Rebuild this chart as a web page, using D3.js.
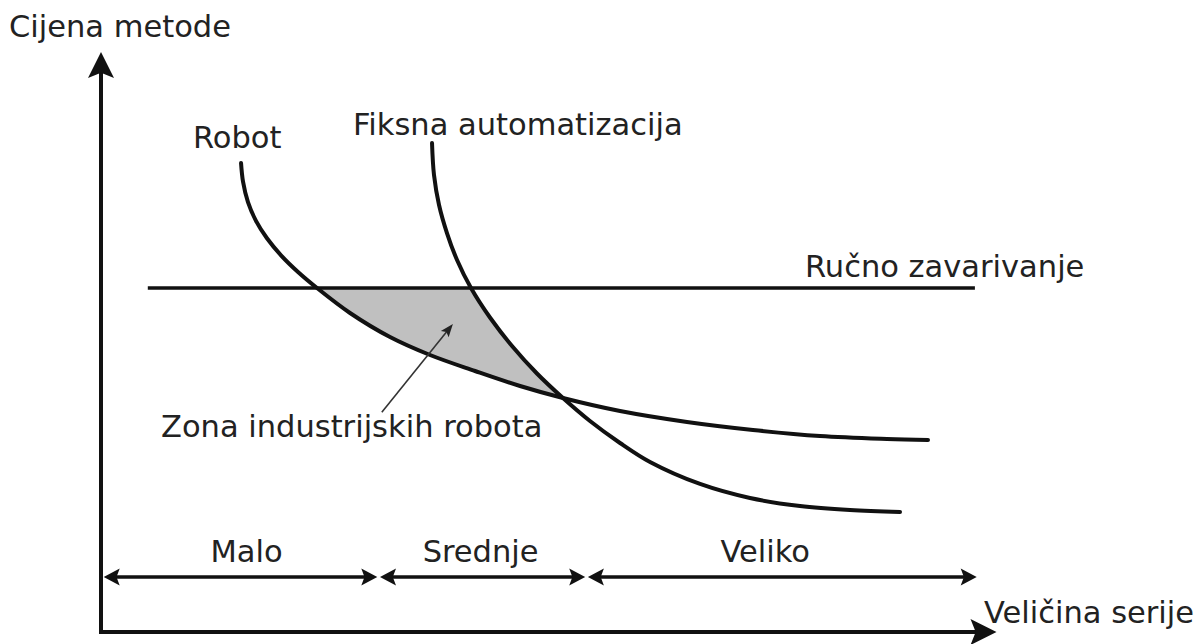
<!DOCTYPE html>
<html>
<head>
<meta charset="utf-8">
<script src="https://cdn.jsdelivr.net/npm/d3@7"></script>
<style>
  body { margin: 0; background: #fff; }
  text { font-family: "DejaVu Sans", sans-serif; fill: #222; }
</style>
</head>
<body>
<svg id="chart"></svg>
<script>
// Robot cost curve (batch size, cost) - conceptual units 0..100
const robotX = [15.56, 15.78, 16.33, 17.22, 18.44, 20.00, 21.89, 24.00, 27.67, 32.11, 36.56, 41.56, 46.56, 51.33, 57.67, 65.11, 72.44, 79.89, 87.33, 91.89];
const robotY = [80.86, 77.64, 74.10, 70.88, 67.88, 64.95, 62.07, 59.31, 55.00, 50.86, 47.76, 45.00, 42.41, 40.34, 38.10, 36.21, 34.83, 33.79, 33.28, 33.10];

// Fixed automation cost curve
const fixedX = [36.78, 37.00, 37.56, 38.44, 39.56, 41.11, 43.22, 45.67, 48.44, 51.33, 54.33, 57.67, 61.00, 66.56, 72.11, 77.67, 83.22, 88.78];
const fixedY = [84.31, 78.79, 73.62, 68.79, 64.14, 59.31, 54.22, 49.31, 44.57, 40.34, 36.38, 32.59, 29.31, 25.52, 23.10, 21.72, 21.03, 20.69];

// Manual welding: constant cost
const manualLevel = 59.3;
const manualSpan = [5.2, 97.1];

// Batch size ranges
const rangeLabels = ["Malo", "Srednje", "Veliko"];
const rangeStart = [0.3, 31.0, 54.1];
const rangeEnd = [30.7, 53.8, 97.3];
const rangeLevel = 9.5;

// Texts
const axisTitles = {y: "Cijena metode", x: "Veličina serije"};
const curveNames = {robot: "Robot", fixed: "Fiksna automatizacija", manual: "Ručno zavarivanje"};
const zoneName = "Zona industrijskih robota";
// pointer from zone label into the shaded zone
const pointerFrom = [31.2, 37.9];
const pointerTo = [39.1, 53.1];

const width = 1197, height = 644;
const fontSize = 30.5;
const rangeLabelShift = [6, -2, -17]; // labels are not quite centred in the original

const x = d3.scaleLinear([0, 100], [101, 1001]);
const y = d3.scaleLinear([0, 100], [632, 52]);

const svg = d3.select("#chart")
    .attr("width", width)
    .attr("height", height)
    .attr("viewBox", [0, 0, width, height]);

const robot = d3.zip(robotX, robotY);
const fixed = d3.zip(fixedX, fixedY);

const curve = d3.curveCatmullRom.alpha(0.5);
const line = d3.line().x(d => x(d[0])).y(d => y(d[1])).curve(curve);

// filled triangle with its tip at (tx,ty), pointing along angle a
function arrowHead(tx, ty, a, len, half) {
    const c = Math.cos(a), s = Math.sin(a);
    const bx = tx - c * len, by = ty - s * len;
    const nx = tx - c * len * 0.8, ny = ty - s * len * 0.8;
    return `M${tx},${ty}L${bx - s * half},${by + c * half}L${nx},${ny}L${bx + s * half},${by - c * half}Z`;
}

// Clip paths for the shaded zone
const defs = svg.append("defs");
defs.append("clipPath").attr("id", "below-manual")
    .append("rect")
    .attr("x", 0).attr("y", y(manualLevel))
    .attr("width", width).attr("height", height);

const clipFixed = defs.append("clipPath").attr("id", "left-of-fixed");
clipFixed.append("rect")
    .attr("x", 0).attr("y", 0)
    .attr("width", x(fixedX[0])).attr("height", height);
clipFixed.append("path")
    .attr("d", d3.area().x(d => x(d[0])).y0(height).y1(d => y(d[1])).curve(curve)(fixed));

// Shaded zone
svg.append("g")
    .attr("clip-path", "url(#left-of-fixed)")
    .append("path")
    .attr("clip-path", "url(#below-manual)")
    .attr("fill", "#c0c0c0")
    .attr("d", d3.area().x(d => x(d[0])).y0(y(manualLevel)).y1(d => y(d[1])).curve(curve)(robot));

// Manual welding line
svg.append("line")
    .attr("x1", x(manualSpan[0])).attr("x2", x(manualSpan[1]))
    .attr("y1", y(manualLevel)).attr("y2", y(manualLevel))
    .attr("stroke", "#111")
    .attr("stroke-width", 3.5);

// Cost curves
svg.selectAll(".cost")
    .data([robot, fixed])
    .join("path")
    .attr("class", "cost")
    .attr("fill", "none")
    .attr("stroke", "#111")
    .attr("stroke-width", 4)
    .attr("stroke-linecap", "round")
    .attr("d", line);

// Axes
const ax = svg.append("g").attr("fill", "#111").attr("stroke", "#111");
ax.append("line")
    .attr("x1", x(0)).attr("x2", x(0))
    .attr("y1", y(0) + 2).attr("y2", y(100) + 20)
    .attr("stroke-width", 4);
ax.append("path").attr("stroke", "none")
    .attr("d", arrowHead(x(0), y(100), -Math.PI / 2, 26, 13));
ax.append("line")
    .attr("x1", x(0) - 2).attr("x2", x(99.5) - 20)
    .attr("y1", y(0)).attr("y2", y(0))
    .attr("stroke-width", 4);
ax.append("path").attr("stroke", "none")
    .attr("d", arrowHead(x(99.5), y(0), 0, 26, 13));

// Batch size ranges
const ranges = svg.append("g")
    .selectAll("g")
    .data(rangeLabels.map((label, i) => ({label, from: rangeStart[i], to: rangeEnd[i], shift: rangeLabelShift[i]})))
    .join("g");
ranges.append("line")
    .attr("x1", d => x(d.from) + 8).attr("x2", d => x(d.to) - 8)
    .attr("y1", y(rangeLevel)).attr("y2", y(rangeLevel))
    .attr("stroke", "#111")
    .attr("stroke-width", 3.5);
ranges.append("path")
    .attr("fill", "#111")
    .attr("d", d => arrowHead(x(d.from), y(rangeLevel), Math.PI, 16, 8.5) + arrowHead(x(d.to), y(rangeLevel), 0, 16, 8.5));
ranges.append("text")
    .attr("x", d => (x(d.from) + x(d.to)) / 2 + d.shift)
    .attr("y", y(rangeLevel) - 15)
    .attr("text-anchor", "middle")
    .attr("font-size", fontSize)
    .text(d => d.label);

// Pointer to the robot zone
const px0 = x(pointerFrom[0]), py0 = y(pointerFrom[1]);
const px1 = x(pointerTo[0]), py1 = y(pointerTo[1]);
const pa = Math.atan2(py1 - py0, px1 - px0);
svg.append("line")
    .attr("x1", px0).attr("y1", py0)
    .attr("x2", px1 - Math.cos(pa) * 8).attr("y2", py1 - Math.sin(pa) * 8)
    .attr("stroke", "#333")
    .attr("stroke-width", 1.6);
svg.append("path")
    .attr("fill", "#222")
    .attr("d", arrowHead(px1, py1, pa, 13, 5));

// Labels
const labels = [
    {text: axisTitles.y, x: 9, y: 37},
    {text: axisTitles.x, x: 984, y: 623},
    {text: curveNames.robot, x: 193, y: 148},
    {text: curveNames.fixed, x: 353, y: 135},
    {text: curveNames.manual, x: 805, y: 277},
    {text: zoneName, x: 161, y: 437}
];
svg.append("g")
    .selectAll("text")
    .data(labels)
    .join("text")
    .attr("x", d => d.x)
    .attr("y", d => d.y)
    .attr("font-size", fontSize)
    .text(d => d.text);
</script>
</body>
</html>
